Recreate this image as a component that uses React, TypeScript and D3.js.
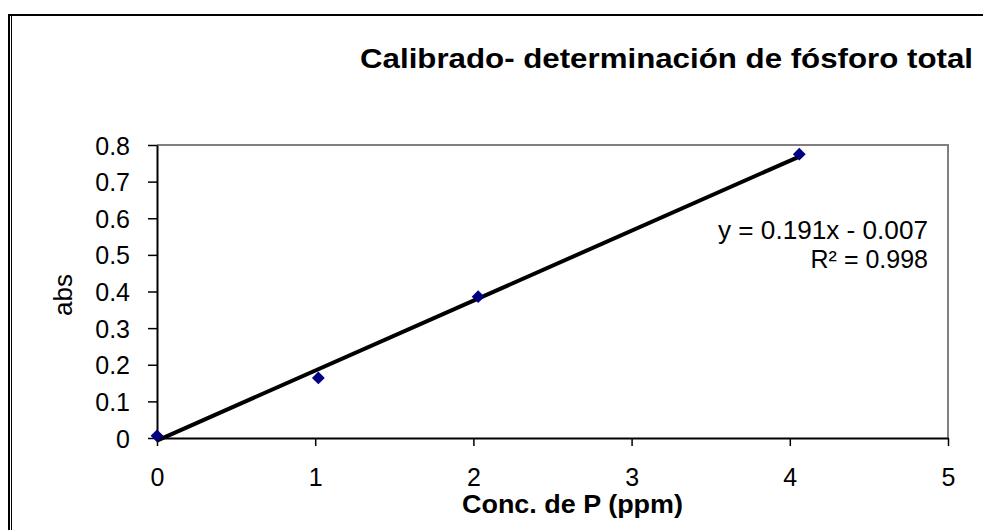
import React, { useEffect, useRef } from 'react';
import * as d3 from 'd3';

// calibration standards
const concPpm = [0, 1.02, 2.03, 4.06];
const absVals = [0.006, 0.164, 0.386, 0.775];

// linear fit reported on the chart
const fitSlope = 0.191;
const fitIntercept = -0.007;

const xTicks = [0, 1, 2, 3, 4, 5];
const yTicks = [0, 0.1, 0.2, 0.3, 0.4, 0.5, 0.6, 0.7, 0.8];

const titleText = 'Calibrado- determinación de fósforo total';
const xLabel = 'Conc. de P (ppm)';
const yLabel = 'abs';
const eqLine = 'y = 0.191x - 0.007';
const r2Line = 'R² = 0.998';

const FONT = "'Liberation Sans', Arial, sans-serif";

export default function App() {
  const svgRef = useRef<SVGSVGElement | null>(null);

  useEffect(() => {
    if (!svgRef.current) return;
    const width = 983;
    const height = 530;
    const plot = { left: 157, top: 145, right: 948, bottom: 438 };

    const svg = d3.select(svgRef.current);
    svg.selectAll('*').remove();
    svg.attr('width', width).attr('height', height);

    svg.append('rect').attr('width', width).attr('height', height).attr('fill', '#fff');

    // outer frame (double on the left, open on the right)
    svg.append('line')
      .attr('x1', 9).attr('x2', width).attr('y1', 15).attr('y2', 15)
      .attr('stroke', '#000').attr('stroke-width', 2);
    svg.append('line')
      .attr('x1', 9).attr('x2', 9).attr('y1', 14).attr('y2', height)
      .attr('stroke', '#000').attr('stroke-width', 2);
    svg.append('line')
      .attr('x1', 11.5).attr('x2', 11.5).attr('y1', 16).attr('y2', height)
      .attr('stroke', '#000').attr('stroke-width', 1);

    const x = d3.scaleLinear().domain([0, 5]).range([plot.left, plot.right]);
    const y = d3.scaleLinear().domain([0, 0.8]).range([plot.bottom, plot.top]);
    const fmt = (d: d3.NumberValue) => String(+(+d).toFixed(1));

    // gray plot frame (top + right)
    svg.append('path')
      .attr('d', `M${plot.left},${plot.top}H${plot.right}V${plot.bottom}`)
      .attr('fill', 'none')
      .attr('stroke', '#808080')
      .attr('stroke-width', 2);

    // y axis
    const yAxis = svg.append('g')
      .attr('transform', `translate(${plot.left},0)`)
      .call(d3.axisLeft(y).tickValues(yTicks).tickSize(9).tickSizeOuter(0).tickPadding(18).tickFormat(fmt));
    yAxis.select('.domain').attr('stroke-width', 2);
    yAxis.selectAll('.tick line').attr('stroke-width', 1.5);
    yAxis.selectAll('text')
      .attr('font-family', FONT).attr('font-size', 25).attr('fill', '#000')
      .attr('dy', '0.36em');

    // x axis
    const xAxis = svg.append('g')
      .attr('transform', `translate(0,${plot.bottom})`)
      .call(d3.axisBottom(x).tickValues(xTicks).tickSize(8).tickSizeOuter(0).tickFormat(fmt));
    xAxis.select('.domain').attr('stroke-width', 2);
    xAxis.selectAll('.tick line').attr('stroke-width', 1.5);
    xAxis.selectAll('text')
      .attr('font-family', FONT).attr('font-size', 25).attr('fill', '#000')
      .attr('y', 48).attr('dy', 0);

    // trend line over the data range
    const xr = d3.extent(concPpm) as [number, number];
    svg.append('path')
      .datum(xr)
      .attr('d', d3.line<number>().x(d => x(d)).y(d => y(fitSlope * d + fitIntercept)))
      .attr('stroke', '#000')
      .attr('stroke-width', 4)
      .attr('fill', 'none');

    // markers
    const diamond = d3.symbol().type(d3.symbolSquare).size(82);
    svg.append('g').selectAll('path')
      .data(concPpm.map((c, i) => [c, absVals[i]]))
      .join('path')
      .attr('d', diamond)
      .attr('transform', d => `translate(${x(d[0])},${y(d[1])}) rotate(45)`)
      .attr('fill', '#000080');

    // equation
    svg.append('text')
      .attr('x', 718).attr('y', 239)
      .attr('font-family', FONT).attr('font-size', 25)
      .attr('textLength', 210).attr('lengthAdjust', 'spacingAndGlyphs')
      .text(eqLine);
    svg.append('text')
      .attr('x', 928).attr('y', 268)
      .attr('text-anchor', 'end')
      .attr('font-family', FONT).attr('font-size', 25)
      .text(r2Line);

    // title
    svg.append('text')
      .attr('x', 360).attr('y', 68)
      .attr('font-family', FONT).attr('font-size', 28).attr('font-weight', 'bold')
      .attr('textLength', 613).attr('lengthAdjust', 'spacingAndGlyphs')
      .text(titleText);

    // axis titles
    svg.append('text')
      .attr('x', 462).attr('y', 513)
      .attr('font-family', FONT).attr('font-size', 25).attr('font-weight', 'bold')
      .attr('textLength', 221).attr('lengthAdjust', 'spacingAndGlyphs')
      .text(xLabel);
    svg.append('text')
      .attr('transform', 'translate(72,295) rotate(-90)')
      .attr('text-anchor', 'middle')
      .attr('font-family', FONT).attr('font-size', 26)
      .text(yLabel);
  }, []);

  return (
    <div style={{ position: 'absolute', left: 0, top: 0, width: 983, height: 530, background: '#fff' }}>
      <svg ref={svgRef} style={{ display: 'block' }} />
    </div>
  );
}
